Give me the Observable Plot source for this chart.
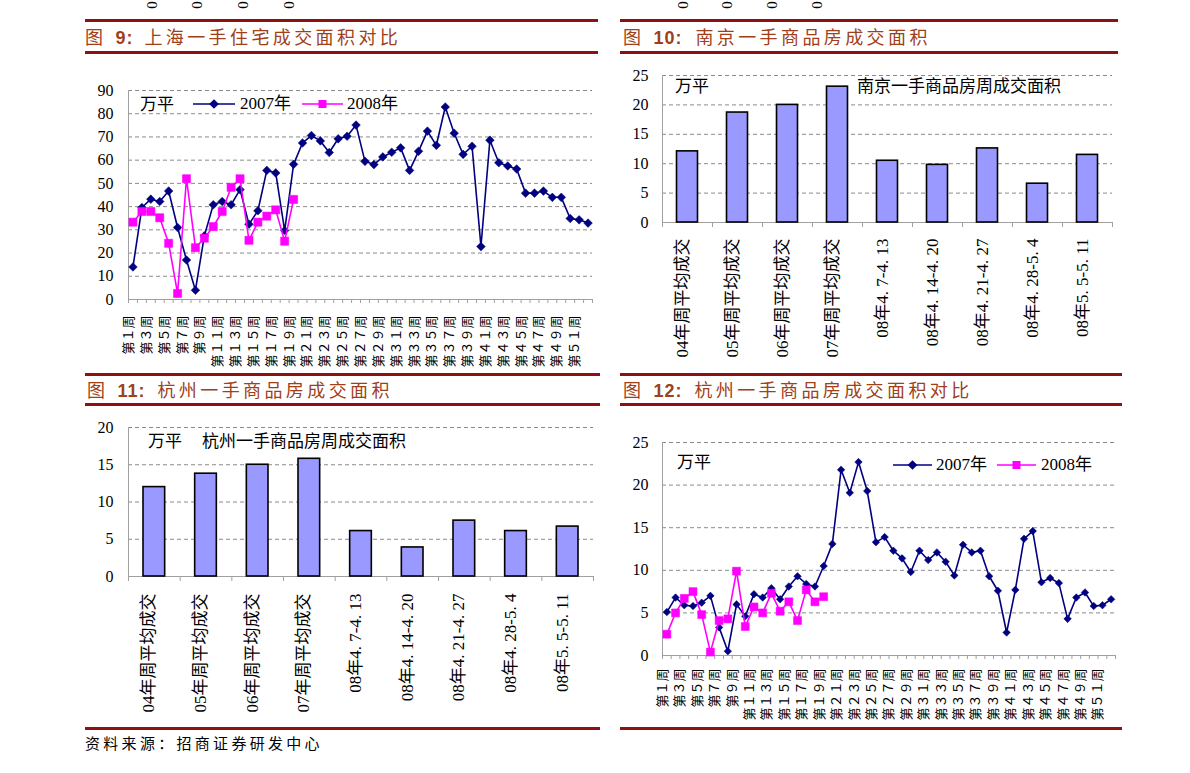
<!DOCTYPE html>
<html>
<head>
<meta charset="utf-8">
<script src="https://cdn.jsdelivr.net/npm/d3@7"></script>
<script src="https://cdn.jsdelivr.net/npm/@observablehq/plot@0.6"></script>
<style>
  html, body { margin: 0; padding: 0; background: #fff; }
  body { position: relative; width: 1190px; height: 773px; overflow: hidden;
         font-family: "Liberation Serif", "Noto Sans CJK SC", serif; color: #000; }
  .abs { position: absolute; white-space: nowrap; }
  .tbar { position: absolute; border-top: 3px solid #8e1111; border-bottom: 3px solid #8e1111; box-sizing: content-box; }
  .ttl { position: absolute; top: 50%; transform: translateY(-50%); left: 0; white-space: nowrap;
         font-family: "Noto Sans CJK SC", sans-serif; font-size: 18px; color: #a0401a; letter-spacing: 3.4px; line-height: 22px; }
  .ttl b { font-family: "Liberation Sans", Arial, sans-serif; font-weight: bold; letter-spacing: 1px; }
  .foot { position: absolute; border-top: 3px solid #8e1111; height: 0; }
  .ann { position: absolute; white-space: nowrap; font-size: 17px; line-height: 20px; transform: translateY(-50%);
         font-family: "Liberation Serif", "Noto Sans CJK SC", serif; }
  .frag { position: absolute; font-size: 15px; line-height: 11px; width: 8px; text-align: center;
          transform: translate(-50%, -50%) rotate(-90deg); font-family: "Liberation Serif", serif; }
</style>
</head>
<body>
<script>
// ---------------- data ----------------
const weeks = Array.from({length: 52}, (_, i) => i + 1);
const labelWeeks = weeks.filter(w => w % 2 === 1);

const shanghai2007 = [14, 39.6, 43.2, 42.2, 46.7, 31, 17, 4, 27.4, 40.8, 42.2, 40.8, 47.3, 32.4, 38.2, 55.6, 54.5, 29.7, 58.2, 67.4,
  70.6, 68.3, 63.3, 69.2, 70.3, 75.1, 59.5, 58.1, 61.4, 63.4, 65.3, 55.6, 63.8, 72.5, 66.4, 82.9, 71.6, 62.5, 66, 22.8,
  68.6, 58.9, 57.5, 56.2, 45.8, 45.8, 46.7, 44, 44, 34.9, 34.3, 32.9];
const shanghai2008 = [33.3, 37.9, 37.9, 35.2, 24.2, 2.6, 52, 22.3, 26.4, 31.4, 37.9, 48.3, 52, 25.5, 33.3, 35.9, 38.6, 25.1, 43.1];

const barCategories = ["04年周平均成交", "05年周平均成交", "06年周平均成交", "07年周平均成交",
  "08年4. 7-4. 13", "08年4. 14-4. 20", "08年4. 21-4. 27", "08年4. 28-5. 4", "08年5. 5-5. 11"];
const nanjingValues = [12.1, 18.7, 20.0, 23.1, 10.5, 9.8, 12.6, 6.6, 11.5];
const hangzhouValues = [12.0, 13.8, 15.0, 15.8, 6.1, 3.9, 7.5, 6.1, 6.7];

const hangzhou2007 = [5.1, 6.8, 5.9, 5.8, 6.2, 7.0, 3.3, 0.5, 6.0, 4.6, 7.2, 6.8, 7.9, 6.6, 8.1, 9.3, 8.4, 8.1, 10.5, 13.1,
  21.8, 19.1, 22.7, 19.3, 13.3, 13.9, 12.3, 11.4, 9.8, 12.3, 11.2, 12.1, 11.0, 9.4, 13.0, 12.1, 12.3, 9.3, 7.6, 2.7,
  7.7, 13.7, 14.6, 8.6, 9.1, 8.5, 4.3, 6.8, 7.4, 5.8, 5.9, 6.6];
const hangzhou2008 = [2.5, 5.0, 6.7, 7.5, 4.8, 0.4, 4.1, 4.3, 9.9, 3.4, 5.7, 5.0, 7.3, 5.2, 6.3, 4.1, 7.7, 6.3, 6.9];

const seriesNames = ["2007年", "2008年"];
const unitLabel = "万平";

// ---------------- helpers ----------------
const FONT = '"Liberation Serif", "Noto Sans CJK SC", serif';
const C07 = "#000080", C08 = "#ff00ff";
const fullWidth = n => String(n).replace(/[0-9]/g, c => String.fromCharCode(c.charCodeAt(0) + 0xFEE0));
const weekLabel = w => `第${fullWidth(w)}周`;

function add(el) { document.body.appendChild(el); return el; }
function div(cls, style, html) {
  const d = document.createElement("div");
  if (cls) d.className = cls;
  Object.assign(d.style, style);
  if (html != null) d.innerHTML = html;
  return add(d);
}
function place(svg, left, top) {
  svg.style.position = "absolute";
  svg.style.left = left + "px";
  svg.style.top = top + "px";
  svg.style.maxWidth = "none";
  svg.style.overflow = "visible";
  add(svg);
}

function lineChart(o) {
  const n = weeks.length;
  const bounds = d3.range(0, n + 1).map(i => i + 0.5);
  const yTicks = d3.range(0, o.ymax + o.ystep / 2, o.ystep);
  const r07 = o.s07.map((v, i) => ({week: weeks[i], value: v}));
  const r08 = o.s08.map((v, i) => ({week: weeks[i], value: v}));
  return Plot.plot({
    width: o.width, height: o.height,
    marginLeft: o.ml, marginRight: o.mr, marginTop: o.mt, marginBottom: o.mb,
    style: {background: "transparent", color: "#a0a0a0", fontFamily: FONT, overflow: "visible"},
    x: {type: "linear", domain: [0.5, n + 0.5], ticks: bounds, tickFormat: () => "", tickSize: 4, line: true, label: null},
    y: {domain: [0, o.ymax], axis: null},
    marks: [
      Plot.ruleY(yTicks.filter(d => d > 0), {stroke: "#8a8a8a", strokeDasharray: "4,3", strokeWidth: 1}),
      Plot.ruleX([0.5], {stroke: "#a0a0a0", strokeWidth: 1}),
      Plot.text(yTicks, {y: d => d, text: d => String(d), frameAnchor: "left", textAnchor: "end", dx: o.ydx,
        fill: "#000", fontSize: 16, fontFamily: FONT}),
      Plot.text(labelWeeks, {x: d => d, text: d => weekLabel(d), frameAnchor: "bottom", rotate: -90, textAnchor: "end",
        dy: o.labelDy, fill: "#000", fontSize: 13, fontFamily: FONT}),
      Plot.line(r07, {x: "week", y: "value", stroke: C07, strokeWidth: 1.6}),
      Plot.dot(r07, {x: "week", y: "value", symbol: "diamond2", r: o.r07, fill: C07, stroke: C07, strokeWidth: 0.5}),
      Plot.line(r08, {x: "week", y: "value", stroke: C08, strokeWidth: 1.6}),
      Plot.dot(r08, {x: "week", y: "value", symbol: "square", r: o.r08, fill: C08, stroke: C08, strokeWidth: 0.5})
    ]
  });
}

function barChart(o) {
  const n = barCategories.length;
  const bounds = d3.range(0, n + 1).map(i => i + 0.5);
  const yTicks = d3.range(0, o.ymax + o.ystep / 2, o.ystep);
  const rows = o.values.map((v, i) => ({i: i + 1, cat: barCategories[i], value: v}));
  return Plot.plot({
    width: o.width, height: o.height,
    marginLeft: o.ml, marginRight: o.mr, marginTop: o.mt, marginBottom: o.mb,
    style: {background: "transparent", color: "#a0a0a0", fontFamily: FONT, overflow: "visible"},
    x: {type: "linear", domain: [0.5, n + 0.5], ticks: bounds, tickFormat: () => "", tickSize: 5, line: true, label: null},
    y: {domain: [0, o.ymax], axis: null},
    marks: [
      Plot.ruleY(yTicks.filter(d => d > 0), {stroke: "#8a8a8a", strokeDasharray: "4,3", strokeWidth: 1}),
      Plot.ruleX([0.5], {stroke: "#a0a0a0", strokeWidth: 1}),
      Plot.text(yTicks, {y: d => d, text: d => String(d), frameAnchor: "left", textAnchor: "end", dx: o.ydx,
        fill: "#000", fontSize: 16, fontFamily: FONT}),
      Plot.rectY(rows, {x1: d => d.i - 0.5, x2: d => d.i + 0.5, y: "value", insetLeft: o.inset, insetRight: o.inset,
        fill: "#9999ff", stroke: "#000", strokeWidth: 1.6}),
      Plot.text(rows, {x: "i", text: "cat", frameAnchor: "bottom", rotate: -90, textAnchor: "end",
        dy: o.labelDy, fill: "#000", fontSize: 17, fontFamily: FONT})
    ]
  });
}

function legendSample(color, symbol, left, cy, w) {
  const s = d3.create("svg").attr("width", w).attr("height", 14)
    .style("position", "absolute").style("left", left + "px").style("top", (cy - 7) + "px");
  s.append("line").attr("x1", 0).attr("x2", w).attr("y1", 7).attr("y2", 7).attr("stroke", color).attr("stroke-width", 1.6);
  const sym = symbol === "diamond" ? d3.symbol(d3.symbolDiamond2, 60) : d3.symbol(d3.symbolSquare, 64);
  s.append("path").attr("d", sym()).attr("transform", `translate(${w / 2},7)`).attr("fill", color);
  add(s.node());
}
function ann(text, left, cy) { div("ann", {left: left + "px", top: cy + "px"}, text); }

function titleBar(left, top, width, inner, num, text, gaps) {
  const bar = div("tbar", {left: left + "px", top: top + "px", width: width + "px", height: inner + "px"});
  const t = document.createElement("div");
  t.className = "ttl";
  t.style.left = gaps[0] + "px";
  t.innerHTML = `<span>图</span><b style="margin-left:${gaps[1]}px">${num}:</b><span style="margin-left:${gaps[2]}px">${text}</span>`;
  bar.appendChild(t);
}

// ---------------- page ----------------
// fragments of the previous page's labels, seen at the top edge
[152, 197, 243, 289, 683, 727, 772, 817].forEach(x => div("frag", {left: x + "px", top: "5px"}, "0"));

titleBar(85, 19, 513, 29, "9", "上海一手住宅成交面积对比", [0, 9, 11]);
titleBar(620, 19, 498, 29, "10", "南京一手商品房成交面积", [3, 9, 13]);
titleBar(85, 373, 515, 27, "11", "杭州一手商品房成交面积", [2, 9, 12]);
titleBar(620, 373, 502, 27, "12", "杭州一手商品房成交面积对比", [3, 9, 12]);

// Figure 9
place(lineChart({width: 520, height: 300, ml: 48, mr: 8, mt: 20, mb: 71, ymax: 90, ystep: 10,
  s07: shanghai2007, s08: shanghai2008, labelDy: 16, ydx: -15, r07: 3.9, r08: 4.6}), 80, 70);
ann(unitLabel, 140, 105);
legendSample(C07, "diamond", 193, 104, 42);
ann(seriesNames[0], 240, 104);
legendSample(C08, "square", 302, 104, 41);
ann(seriesNames[1], 347, 104);

// Figure 10
place(barChart({width: 520, height: 310, ml: 52, mr: 18, mt: 15, mb: 148, ymax: 25, ystep: 5,
  values: nanjingValues, inset: 14.5, labelDy: 16, ydx: -14}), 610, 60);
ann(unitLabel, 675, 87);
ann("南京一手商品房周成交面积", 857, 87);

// Figure 11
place(barChart({width: 520, height: 310, ml: 48, mr: 7, mt: 15, mb: 146, ymax: 20, ystep: 5,
  values: hangzhouValues, inset: 15, labelDy: 17, ydx: -15}), 80, 412);
ann(unitLabel, 148, 442);
ann("杭州一手商品房周成交面积", 202, 442);

// Figure 12
place(lineChart({width: 520, height: 295, ml: 52, mr: 15, mt: 17, mb: 65, ymax: 25, ystep: 5,
  s07: hangzhou2007, s08: hangzhou2008, labelDy: 13, ydx: -14, r07: 3.4, r08: 4.5}), 610, 425);
ann(unitLabel, 677, 463);
legendSample(C07, "diamond", 893, 465, 39);
ann(seriesNames[0], 936, 465);
legendSample(C08, "square", 997, 465, 39);
ann(seriesNames[1], 1041, 465);

// footers
div("foot", {left: "85px", top: "727px", width: "515px"});
div("foot", {left: "620px", top: "727px", width: "502px"});
div("abs", {left: "85px", top: "733px", fontFamily: '"Noto Sans CJK SC", sans-serif', fontSize: "15px",
  lineHeight: "20px", letterSpacing: "3.3px"}, "资料来源：招商证券研发中心");
</script>
</body>
</html>
